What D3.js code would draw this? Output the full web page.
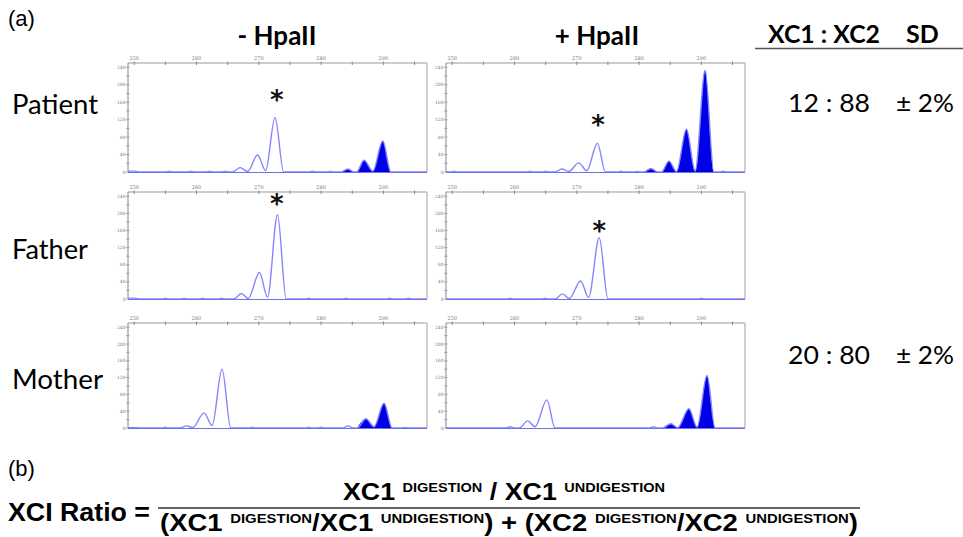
<!DOCTYPE html>
<html>
<head>
<meta charset="utf-8">
<script src="https://cdn.jsdelivr.net/npm/d3@7"></script>
<style>
  html, body { margin: 0; padding: 0; background: #fff; }
  #chart { width: 963px; height: 537px; }
</style>
</head>
<body>
<div id="chart"></div>
<script>
// tick values of the small electropherogram axes
const xTicksMajor = [250, 260, 270, 280, 290];
const xTicksMinor = [255, 265, 275, 285, 295];
const yTicksMajor = [0, 40, 80, 120, 160, 200, 240];

// traces as [size, height] points
const patientUndigested = [
  [249, 2], [250, 2], [251, 0], [255, 0], [255.6, 2], [256.2, 0], [258.5, 0], [259.1, 2], [259.7, 0],
  [261.5, 0], [262.1, 2], [262.7, 0], [264, 0], [264.6, 2], [265.2, 0],
  [265.8, 0], [267, 10], [268.2, 1], [269.8, 39], [271.1, 3], [272.6, 125], [274, 0],
  [278, 0], [278.6, 2], [279.2, 0], [281, 0], [281.5, 1], [282, 0],
  [283.2, 0], [284.3, 7], [285.3, 0], [285.7, 0], [286.9, 27], [288.3, 2], [289.9, 71], [291.2, 0], [297, 0]
];
const patientDigested = [
  [249, 0], [249.8, 0], [250.3, 2], [250.8, 0], [262, 0], [262.5, 2], [263, 0], [264.5, 0], [265, 2], [265.5, 0],
  [266.5, 0], [267.6, 7], [268.7, 1], [270.3, 21], [271.6, 3], [273.3, 66], [274.6, 0],
  [276.7, 0], [277.1, 2], [277.5, 0], [279.3, 0], [279.7, 1], [280.1, 0],
  [280.8, 0], [281.9, 8], [283, 0], [283.6, 0], [284.8, 25], [286, 1], [287.6, 98], [289, 2], [290.6, 233], [292, 0],
  [293, 0], [293.5, 2], [294, 0], [297, 0]
];
const fatherUndigested = [
  [249, 2], [250, 2], [251, 0], [254.5, 0], [255, 2], [255.5, 0], [257.5, 0], [258, 2], [258.5, 0],
  [260.5, 0], [261, 2], [261.5, 0], [263.5, 0], [264, 2], [264.5, 0],
  [266, 0], [267.2, 13], [268.3, 1], [270.1, 62], [271.4, 4], [273, 197], [274.4, 0],
  [277.5, 0], [278, 2], [278.5, 0], [283.5, 0], [284, 2], [284.5, 0], [290.5, 0], [291, 2], [291.5, 0],
  [293.5, 0], [294, 2], [294.5, 0], [297, 0]
];
const fatherDigested = [
  [249, 0], [258.8, 0], [259.3, 2], [259.8, 0], [264.4, 0], [264.9, 2], [265.4, 0],
  [266.5, 0], [267.7, 12], [268.8, 1], [270.6, 42], [271.9, 4], [273.6, 143], [275, 0],
  [289.5, 0], [290, 2], [290.5, 0], [297, 0]
];
const motherUndigested = [
  [249, 1], [250, 1], [251, 0], [254.5, 0], [255, 2], [255.5, 0],
  [257.3, 0], [258.4, 5], [259.4, 1], [261.2, 36], [262.5, 6], [264.1, 140], [265.5, 0],
  [268.5, 0], [269, 2], [269.5, 0], [277.5, 0], [278, 2], [278.5, 0], [279.5, 0], [280, 2], [280.5, 0],
  [283.5, 0], [284.3, 5], [285.1, 0],
  [285.8, 0], [287.2, 22], [288.5, 3], [290.1, 59], [291.4, 0], [293, 0], [293.5, 1], [294, 0], [297, 0]
];
const motherDigested = [
  [249, 0], [258.6, 0], [259.3, 3], [260, 0],
  [260.8, 0], [262.1, 17], [263.3, 3], [265.2, 67], [266.5, 0],
  [281.6, 0], [282.3, 3], [283, 0],
  [283.8, 0], [285.1, 10], [286.2, 1], [288, 46], [289.3, 2], [290.9, 125], [292.2, 0], [297, 0]
];

// size from which the second allele is drawn filled
const fillStarts = [283, 280.8, 999, 999, 285.3, 283.8];
// asterisks over the methylated allele, [size, height] (null when absent)
const asterisks = [[272.9, 172], [273.4, 115], [272.9, 229], [273.6, 166], null, null];

const rowLabels = ["Patient", "Father", "Mother"];
const columnLabels = ["- HpaII", "+ HpaII"];
const ratioLabels = ["12 : 88", null, "20 : 80"];
const sdLabels = ["\u00B1 2%", null, "\u00B1 2%"];

const traces = [patientUndigested, patientDigested, fatherUndigested, fatherDigested, motherUndigested, motherDigested];

const W = 963, H = 537;
const colX = [128, 446];
const panelW = 299;
const rows = [{ top: 63, bottom: 172 }, { top: 192, bottom: 299 }, { top: 323, bottom: 428 }];

const svg = d3.select("#chart").append("svg")
  .attr("width", W).attr("height", H)
  .attr("font-family", "Lato, 'Open Sans', sans-serif");

// draw the six panels
traces.forEach((trace, i) => {
  const r = rows[Math.floor(i / 2)];
  const x0 = colX[i % 2];
  const x = d3.scaleLinear().domain([249, 297]).range([x0, x0 + panelW]);
  const y = d3.scaleLinear().domain([0, 250]).range([r.bottom, r.top]);
  const g = svg.append("g");

  // frame
  g.append("line").attr("x1", x0).attr("x2", x0 + panelW).attr("y1", r.top).attr("y2", r.top)
    .attr("stroke", "#9a9a9a").attr("stroke-width", 1.2);
  g.append("line").attr("x1", x0 + panelW).attr("x2", x0 + panelW).attr("y1", r.top).attr("y2", r.bottom)
    .attr("stroke", "#b0b0b0").attr("stroke-width", 1.2);
  g.append("line").attr("x1", x0).attr("x2", x0).attr("y1", r.top).attr("y2", r.bottom)
    .attr("stroke", "#9a9a9a").attr("stroke-width", 1.2);

  // top axis ticks and labels
  g.selectAll(".tx").data(xTicksMajor.concat(xTicksMinor)).join("line")
    .attr("x1", d => x(d)).attr("x2", d => x(d))
    .attr("y1", r.top - 1.5).attr("y2", r.top + 2)
    .attr("stroke", "#888").attr("stroke-width", 1);
  g.selectAll(".tl").data(xTicksMajor).join("text")
    .attr("x", d => x(d)).attr("y", r.top - 3)
    .attr("text-anchor", "middle").attr("font-size", 5).attr("fill", "#777")
    .attr("font-family", "'DejaVu Serif', serif")
    .text(d => d);

  // left axis ticks and labels
  g.selectAll(".ty").data(d3.range(0, 250, 20)).join("line")
    .attr("x1", x0 - 2).attr("x2", x0 + 1.5)
    .attr("y1", d => y(d)).attr("y2", d => y(d))
    .attr("stroke", "#999").attr("stroke-width", 0.8);
  g.selectAll(".yl").data(yTicksMajor).join("text")
    .attr("x", x0 - 2.5).attr("y", d => y(d) + 1.5)
    .attr("text-anchor", "end").attr("font-size", 4.5).attr("fill", "#777")
    .attr("font-family", "'DejaVu Serif', serif")
    .text(d => d);

  // filled allele
  const filled = trace.filter(p => p[0] >= fillStarts[i]);
  if (filled.length) {
    g.append("path").datum(filled)
      .attr("fill", "#0000e6")
      .attr("d", d3.area().x(p => x(p[0])).y0(y(0)).y1(p => y(p[1])).curve(d3.curveMonotoneX));
  }

  // trace outline
  g.append("path").datum(trace)
    .attr("fill", "none").attr("stroke", "#8585ff").attr("stroke-width", 1.4)
    .attr("d", d3.line().x(p => x(p[0])).y(p => y(p[1])).curve(d3.curveMonotoneX));
  g.append("line").attr("x1", x0).attr("x2", x0 + panelW).attr("y1", y(0) + 0.5).attr("y2", y(0) + 0.5)
    .attr("stroke", "#6f6fe8").attr("stroke-width", 1.2);

  if (asterisks[i]) {
    g.append("text")
      .attr("x", x(asterisks[i][0])).attr("y", y(asterisks[i][1]) + 12)
      .attr("text-anchor", "middle").attr("font-size", 26).attr("font-weight", "bold")
      .attr("font-family", "'DejaVu Sans', sans-serif").attr("fill", "#111")
      .text("*");
  }
});

// panel headers and labels
svg.append("text").attr("x", 8).attr("y", 26).attr("font-size", 22)
  .attr("font-family", "'Liberation Sans', Arial, sans-serif").text("(a)");
const headerX = [277, 597];
columnLabels.forEach((t, i) => {
  svg.append("text").attr("x", headerX[i]).attr("y", 45).attr("text-anchor", "middle")
    .attr("font-size", 26).attr("font-weight", "bold").text(t);
});
svg.append("text").attr("x", 768).attr("y", 43).attr("font-size", 25).attr("font-weight", "bold")
  .attr("textLength", 112).attr("lengthAdjust", "spacingAndGlyphs").text("XC1 : XC2");
svg.append("text").attr("x", 906).attr("y", 43).attr("font-size", 25).attr("font-weight", "bold").text("SD");
svg.append("line").attr("x1", 755).attr("x2", 963).attr("y1", 48.5).attr("y2", 48.5)
  .attr("stroke", "#555").attr("stroke-width", 1.3);

const rowLabelY = [114, 259, 389];
rowLabels.forEach((t, i) => {
  svg.append("text").attr("x", 12).attr("y", rowLabelY[i]).attr("font-size", 26)
    .attr("textLength", i === 1 ? 76 : (i === 0 ? 86 : 91)).attr("lengthAdjust", "spacingAndGlyphs").text(t);
});
const ratioY = [112, null, 364];
ratioLabels.forEach((t, i) => {
  if (!t) return;
  svg.append("text").attr("x", 788).attr("y", ratioY[i]).attr("font-size", 25)
    .attr("textLength", 82).attr("lengthAdjust", "spacingAndGlyphs").text(t);
  svg.append("text").attr("x", 896).attr("y", ratioY[i]).attr("font-size", 25)
    .attr("textLength", 58).attr("lengthAdjust", "spacingAndGlyphs").text(sdLabels[i]);
});

// formula (b)
const fFont = "'Liberation Sans Narrow', 'Liberation Sans', Arial, sans-serif";
svg.append("text").attr("x", 8).attr("y", 476).attr("font-size", 22)
  .attr("font-family", "'Liberation Sans', Arial, sans-serif").text("(b)");
svg.append("text").attr("x", 8).attr("y", 521).attr("font-size", 25).attr("font-weight", "bold")
  .attr("font-family", fFont).attr("textLength", 142).attr("lengthAdjust", "spacingAndGlyphs").text("XCI Ratio =");

function formulaLine(parts, x, yBase, len) {
  const t = svg.append("text").attr("x", x).attr("y", yBase).attr("text-anchor", "middle")
    .attr("font-family", fFont).attr("font-weight", "bold")
    .attr("textLength", len).attr("lengthAdjust", "spacingAndGlyphs");
  parts.forEach(p => {
    t.append("tspan").attr("font-size", p.sup ? 13 : 24).attr("dy", p.dy || 0).text(p.t);
  });
}
formulaLine([
  { t: "XC1 " }, { t: "DIGESTION", sup: true, dy: -8 }, { t: " / XC1 ", dy: 8 }, { t: "UNDIGESTION", sup: true, dy: -8 }
], 504, 500, 322);
formulaLine([
  { t: "(XC1 " }, { t: "DIGESTION", sup: true, dy: -8 }, { t: "/XC1 ", dy: 8 }, { t: "UNDIGESTION", sup: true, dy: -8 },
  { t: ") + (XC2 ", dy: 8 }, { t: "DIGESTION", sup: true, dy: -8 }, { t: "/XC2 ", dy: 8 }, { t: "UNDIGESTION", sup: true, dy: -8 },
  { t: ")", dy: 8 }
], 509, 531, 698);
svg.append("line").attr("x1", 158).attr("x2", 860).attr("y1", 508).attr("y2", 508)
  .attr("stroke", "#333").attr("stroke-width", 1.3);
</script>
</body>
</html>
